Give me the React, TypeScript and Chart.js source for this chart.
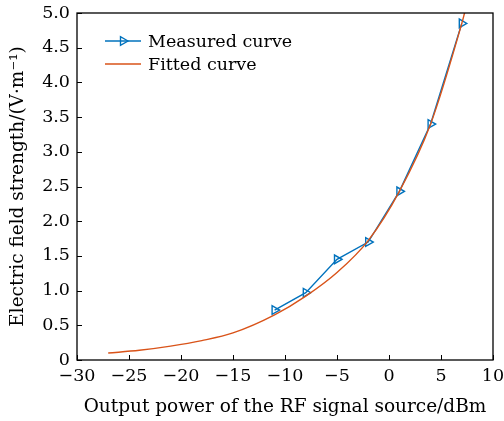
import React, { useEffect, useRef } from "react";
import { Chart, registerables } from "chart.js";

Chart.register(...registerables);

// Measured field strength at each RF source output level
const measuredPower = [-11, -8, -5, -2, 1, 4, 7];
const measuredField = [0.72, 0.97, 1.45, 1.7, 2.43, 3.4, 4.85];

// Fitted curve samples
const fittedPower = [-27, -24, -21, -18, -15, -11, -8, -5, -2, 1, 4, 7, 7.3];
const fittedField = [0.1, 0.14, 0.2, 0.28, 0.39, 0.65, 0.92, 1.26, 1.72, 2.43, 3.4, 4.85, 5.02];

const seriesNames = ["Measured curve", "Fitted curve"];
const xTitle = "Output power of the RF signal source/dBm";
const yTitle = "Electric field strength/(V\u00b7m\u207b\u00b9)";

const BLUE = "#0072BD";
const ORANGE = "#D95319";
const FONT = "DejaVu Serif";
const TICK_SIZE = 17.5;
const TITLE_SIZE = 18.5;

const frameAndLegend = {
  id: "frameAndLegend",
  afterDatasetsDraw(chart: any) {
    const { ctx, chartArea: a, scales } = chart;
    ctx.save();
    // inward tick marks
    ctx.strokeStyle = "#000";
    ctx.lineWidth = 1;
    const tl = 5;
    scales.x.ticks.forEach((t: any) => {
      const px = Math.round(scales.x.getPixelForValue(t.value)) + 0.5;
      ctx.beginPath();
      ctx.moveTo(px, a.bottom);
      ctx.lineTo(px, a.bottom - tl);
      ctx.stroke();
    });
    scales.y.ticks.forEach((t: any) => {
      const py = Math.round(scales.y.getPixelForValue(t.value)) + 0.5;
      ctx.beginPath();
      ctx.moveTo(a.left, py);
      ctx.lineTo(a.left + tl, py);
      ctx.stroke();
    });
    // box
    ctx.lineWidth = 1.3;
    ctx.strokeRect(a.left, a.top, a.right - a.left, a.bottom - a.top);

    // legend
    const ds = chart.data.datasets;
    const x0 = a.left + 28;
    const x1 = a.left + 64;
    const rows = [a.top + 28, a.top + 51];
    ctx.font = `${TICK_SIZE}px "${FONT}"`;
    ctx.textBaseline = "middle";
    ctx.fillStyle = "#000";
    [0, 1].forEach((i) => {
      const y = rows[i];
      const d = ds[i];
      ctx.strokeStyle = d.borderColor;
      ctx.lineWidth = d.borderWidth;
      ctx.beginPath();
      ctx.moveTo(x0, y);
      ctx.lineTo(x1, y);
      ctx.stroke();
      if (d.pointRadius > 0) {
        ctx.lineWidth = d.pointBorderWidth;
        const r = d.pointRadius;
        const cx = (x0 + x1) / 2;
        ctx.beginPath();
        ctx.moveTo(cx + r, y);
        ctx.lineTo(cx - r * 0.5, y - r * 0.866);
        ctx.lineTo(cx - r * 0.5, y + r * 0.866);
        ctx.closePath();
        ctx.stroke();
      }
      ctx.fillText(d.label, x1 + 7, y + 1);
    });
    ctx.restore();
  },
};

export default function App() {
  const ref = useRef<HTMLCanvasElement | null>(null);

  useEffect(() => {
    if (!ref.current) return;
    const chart = new Chart(ref.current, {
      type: "line",
      data: {
        datasets: [
          {
            label: seriesNames[0],
            data: measuredPower.map((p, i) => ({ x: p, y: measuredField[i] })),
            borderColor: BLUE,
            backgroundColor: "rgba(0,0,0,0)",
            borderWidth: 1.4,
            pointStyle: "triangle",
            pointRotation: 90,
            pointRadius: 5,
            pointBorderWidth: 1.4,
            pointBorderColor: BLUE,
            pointBackgroundColor: "rgba(0,0,0,0)",
            tension: 0,
            order: 1,
          },
          {
            label: seriesNames[1],
            data: fittedPower.map((p, i) => ({ x: p, y: fittedField[i] })),
            borderColor: ORANGE,
            backgroundColor: "rgba(0,0,0,0)",
            borderWidth: 1.4,
            pointRadius: 0,
            pointBorderWidth: 0,
            cubicInterpolationMode: "monotone",
            order: 0,
          },
        ],
      },
      options: {
        responsive: false,
        animation: false,
        layout: { padding: { top: 13, right: 11, left: 0, bottom: 0 } },
        plugins: {
          legend: { display: false },
          tooltip: { enabled: false },
        },
        scales: {
          x: {
            type: "linear",
            min: -30,
            max: 10,
            grid: { display: false, drawTicks: false },
            border: { display: false },
            ticks: {
              stepSize: 5,
              padding: 6,
              color: "#000",
              font: { family: FONT, size: TICK_SIZE },
              maxRotation: 0,
              callback: (v: any) => (v < 0 ? "\u2212" + Math.abs(v) : String(v)),
            },
            title: {
              display: true,
              text: xTitle,
              color: "#000",
              font: { family: FONT, size: TITLE_SIZE },
              padding: { top: 0, bottom: 3 },
            },
            afterFit: (s: any) => {
              s.height = 61;
              s.paddingLeft = 0;
              s.paddingRight = 0;
            },
          },
          y: {
            type: "linear",
            min: 0,
            max: 5,
            grid: { display: false, drawTicks: false },
            border: { display: false },
            ticks: {
              stepSize: 0.5,
              padding: 7,
              color: "#000",
              font: { family: FONT, size: TICK_SIZE },
              callback: (v: any) => (v === 0 ? "0" : Number(v).toFixed(1)),
            },
            title: {
              display: true,
              text: yTitle,
              color: "#000",
              font: { family: FONT, size: TITLE_SIZE },
              padding: { top: 7, bottom: 0 },
            },
            afterFit: (s: any) => {
              s.width = 77;
              s.paddingTop = 0;
              s.paddingBottom = 0;
            },
          },
        },
      },
      plugins: [frameAndLegend],
    });
    return () => chart.destroy();
  }, []);

  return (
    <div style={{ position: "absolute", left: 0, top: 0, width: 504, height: 421, background: "#fff" }}>
      <canvas ref={ref} width={504} height={421} style={{ display: "block" }} />
    </div>
  );
}
